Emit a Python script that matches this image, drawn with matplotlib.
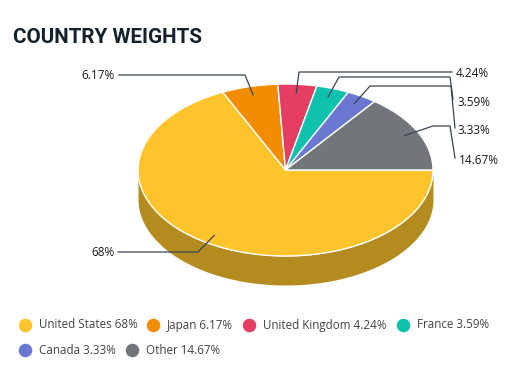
import numpy as np
import matplotlib
matplotlib.use("Agg")
import matplotlib.pyplot as plt
from matplotlib.patches import Wedge
from matplotlib.transforms import Affine2D

countries = ["United States", "Japan", "United Kingdom", "France", "Canada", "Other"]
weights = [68, 6.17, 4.24, 3.59, 3.33, 14.67]
weight_labels = ["68%", "6.17%", "4.24%", "3.59%", "3.33%", "14.67%"]
colors = ["#FFC32B", "#F28C00", "#E63E62", "#0FC2AE", "#6A78D1", "#72767A"]
wall_color = "#B38B1F"
title = "COUNTRY WEIGHTS"

W, H = 528, 369
cx, cy, rx, ry, depth = 285.5, 170, 147.5, 86, 29

fig = plt.figure(figsize=(W / 100, H / 100), dpi=100, facecolor="white")
ax = fig.add_axes([0, 0, 1, 1])
ax.set_xlim(0, W)
ax.set_ylim(H, 0)
ax.axis("off")

ellipse = Affine2D().scale(rx, ry).translate(cx, cy) + ax.transData

# side wall
t = np.linspace(0, np.pi, 300)
ex = cx + rx * np.cos(t)
ey = cy + ry * np.sin(t)
ax.fill_between(ex, ey, ey + depth, color=wall_color, lw=0, zorder=1)

# top face
edges = np.concatenate([[0], np.cumsum(weights)]) / np.sum(weights) * 360
for a, b, c in zip(edges[:-1], edges[1:], colors):
    ax.add_patch(Wedge((0, 0), 1, a, b, facecolor=c, edgecolor="white", lw=1.0,
                       transform=ellipse, zorder=2))

# leader lines: elbow, line end, label anchor, per slice
leaders = [
    ((198, 252), (118, 252), (114.5, 252.5), "right"),
    ((245, 75), (119, 75), (114.5, 75.5), "right"),
    ((299, 72), (452, 72), (456, 73.5), "left"),
    ((339, 77), (450, 77), (457, 102), "left"),
    ((370, 86), (451, 86), (457.5, 131), "left"),
    ((433, 126), (450, 126), (459, 161), "left"),
]
tail = [None, None, None, (453, 99), (455, 128), (455, 158)]
mids = np.deg2rad((edges[:-1] + edges[1:]) / 2)
for m, (elbow, end, lab, ha), tl, txt in zip(mids, leaders, tail, weight_labels):
    px = cx + 0.9 * rx * np.cos(m)
    py = cy + 0.9 * ry * np.sin(m)
    xs = [px, elbow[0], end[0]]
    ys = [py, elbow[1], end[1]]
    if tl:
        xs.append(tl[0])
        ys.append(tl[1])
    ax.plot(xs, ys, color="#3A4450", lw=0.9, zorder=3, solid_joinstyle="miter")
    ax.text(lab[0], lab[1], txt, ha=ha, va="center",
            fontsize=8.5, family="Open Sans", color="#1A1A1A", zorder=4)

# title
ax.text(13, 37.5, title, fontsize=14.9, fontweight="bold", family="Roboto",
        color="#14202B", va="center", ha="left")

# legend
legend_pos = [(25, 324.5), (153, 324.5), (249, 324.5), (403, 324.5), (25, 350), (132, 350)]
for (lx, ly), n, lab, c in zip(legend_pos, countries, weight_labels, colors):
    ax.scatter([lx], [ly], s=95, color=c, lw=0, zorder=3)
    ax.text(lx + 14, ly + 0.5, f"{n} {lab}", fontsize=8.4, family="Open Sans",
            color="#444444", va="center", ha="left")

fig.savefig("out.png", dpi=100)
